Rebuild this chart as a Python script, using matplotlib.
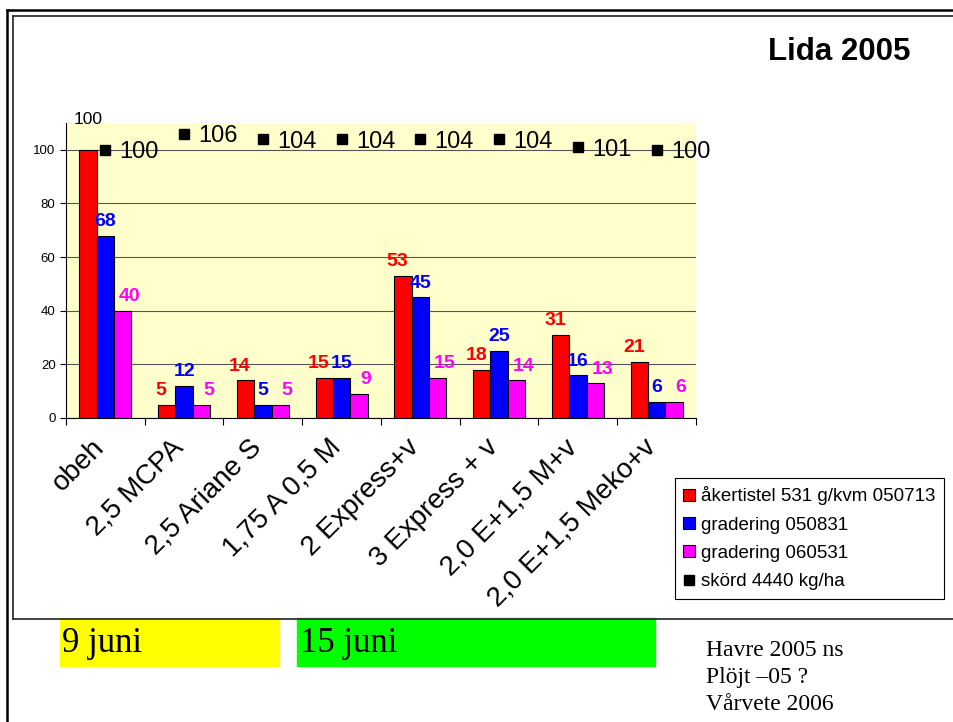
import numpy as np
import matplotlib.pyplot as plt
import matplotlib.patches as mpatches
from matplotlib.lines import Line2D

# data
categories = ['obeh', '2,5 MCPA', '2,5 Ariane S', '1,75 A 0,5 M', '2 Express+v',
              '3 Express + v', '2,0 E+1,5 M+v', '2,0 E+1,5 Meko+v']
akertistel = [100, 5, 14, 15, 53, 18, 31, 21]
grad_0508 = [68, 12, 5, 15, 45, 25, 16, 6]
grad_0605 = [40, 5, 5, 9, 15, 14, 13, 6]
skord = [100, 106, 104, 104, 104, 104, 101, 100]
legend_labels = ['åkertistel 531 g/kvm 050713', 'gradering 050831',
                 'gradering 060531', 'skörd 4440 kg/ha']

W, H = 954, 722
fig = plt.figure(figsize=(W / 100, H / 100), dpi=100)
plt.rcParams['font.family'] = ['Liberation Sans', 'DejaVu Sans']


def fx(px):
    return px / W


def fy(py):
    return 1 - py / H


# slide border and chart frame
fig.add_artist(Line2D([fx(7), fx(7)], [fy(10), 0], color='black', lw=1.8))
fig.add_artist(Line2D([fx(7), 1], [fy(10), fy(10)], color='black', lw=1.8))
fig.add_artist(Line2D([fx(13), fx(13)], [fy(16), fy(619)], color='#333333', lw=1.3))
fig.add_artist(Line2D([fx(13), 1], [fy(16), fy(16)], color='#333333', lw=1.3))
fig.add_artist(Line2D([fx(13), 1], [fy(619), fy(619)], color='#333333', lw=1.3))

ax = fig.add_axes([fx(66), fy(418), fx(696) - fx(66), fy(123) - fy(418)])
ax.set_facecolor('#FFFFCC')

x = np.arange(len(categories))
w = 0.22
cols = ['#FF0000', '#0000FF', '#FF00FF']
nudge = [-4, 0, 5]  # label shift in points, like Excel's overlap avoidance
series = [akertistel, grad_0508, grad_0605]
handles = []
for i, (vals, c, lab) in enumerate(zip(series, cols, legend_labels)):
    xs = x + (i - 1) * w
    b = ax.bar(xs, vals, w, color=c, edgecolor='black', linewidth=0.8, label=lab, zorder=3)
    handles.append(b)
    for xi, v in zip(xs, vals):
        if i == 0 and v == 100:
            continue
        ax.annotate(str(v), (xi, v), xytext=(nudge[i], 4), textcoords='offset points',
                    color=c, fontsize=14, fontweight='bold',
                    ha='center', va='bottom', zorder=5)

# displaced label of the first bar
ax.text(x[0] - w, 108.5, '100', fontsize=12.5, ha='center', va='bottom', clip_on=False)

mk, = ax.plot(x, skord, 's', color='black', markersize=7.5, linestyle='none',
              label=legend_labels[3], zorder=5, clip_on=False)
handles.append(mk)
for xi, v in zip(x, skord):
    ax.text(xi + 0.18, v, str(v), fontsize=17, ha='left', va='center_baseline', zorder=5,
            clip_on=False)

ax.set_xlim(-0.5, len(categories) - 0.5)
ax.set_ylim(0, 110)
ax.set_yticks(range(0, 101, 20))
ax.yaxis.grid(True, color='#555555', linewidth=0.8, zorder=0)
ax.set_axisbelow(True)
ax.tick_params(axis='y', labelsize=9.5, length=4)
ax.set_xticks(np.arange(-0.5, len(categories), 1.0))
ax.set_xticklabels([])
ax.tick_params(axis='x', length=5)
for s in ['top', 'right']:
    ax.spines[s].set_visible(False)

for xi, lab in zip(x, categories):
    ax.text(xi - 0.18, -6, lab, fontsize=20, rotation=45, rotation_mode='anchor',
            ha='right', va='top', clip_on=False)

leg = fig.legend(handles, legend_labels, loc='upper left',
                 bbox_to_anchor=(fx(675), fy(478)),
                 frameon=True, fancybox=False, edgecolor='black', framealpha=1,
                 fontsize=13.5, handlelength=0.6, handleheight=0.6,
                 handletextpad=0.35, borderpad=0.45, labelspacing=0.6,
                 borderaxespad=0)
leg.get_frame().set_linewidth(0.8)

fig.text(fx(839), fy(52), 'Lida 2005', fontsize=22.5, fontweight='bold',
         ha='center', va='center')

# date boxes below the chart
fig.add_artist(mpatches.Rectangle((fx(60), fy(666)), fx(279) - fx(60), fy(618) - fy(666),
                                  color='#FFFF00', zorder=1))
fig.add_artist(mpatches.Rectangle((fx(297), fy(666)), fx(655) - fx(297), fy(618) - fy(666),
                                  color='#00FF00', zorder=1))
fig.text(fx(62), fy(643), '9 juni', family='Liberation Serif', fontsize=25,
         va='center', zorder=2)
fig.text(fx(300), fy(643), '15 juni', family='Liberation Serif', fontsize=25,
         va='center', zorder=2)
for i, t in enumerate(['Havre 2005 ns', 'Plöjt –05 ?', 'Vårvete 2006']):
    fig.text(fx(706), fy(651 + 27 * i), t, family='Liberation Serif', fontsize=17,
             va='center')

fig.savefig('out.png', dpi=100)
